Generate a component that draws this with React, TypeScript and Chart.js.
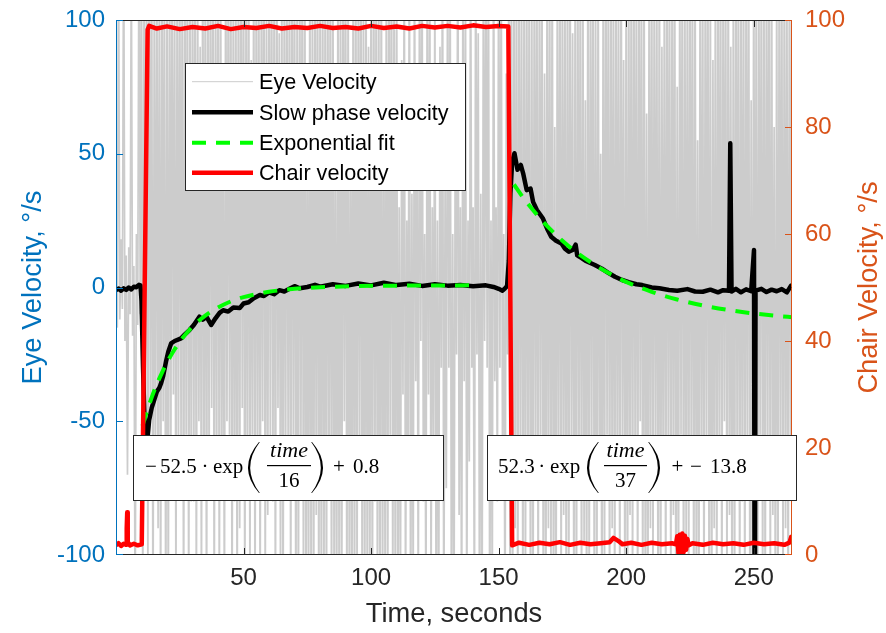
import React, { useEffect, useRef } from "react";
import { Chart, registerables } from "chart.js";

Chart.register(...registerables);

const SANS = '"Liberation Sans", Arial, Helvetica, sans-serif';
const SERIF = '"Liberation Serif", "Times New Roman", serif';

const xTickValues = [50, 100, 150, 200, 250];
const leftTickValues = [-100, -50, 0, 50, 100];
const rightTickValues = [0, 20, 40, 60, 80, 100];

const xTitle = "Time, seconds";
const leftTitle = "Eye Velocity, °/s";
const rightTitle = "Chair Velocity, °/s";
const legendLabels = ["Eye Velocity", "Slow phase velocity", "Exponential fit", "Chair velocity"];

// Raw eye velocity, sampled every 0.5 s (values beyond ±100 are clipped by the axes)
const eyeSampleStep = 0.5;
const eyeVelPre = [10, -15, 130, -12, 18, -8, 140, -20, 12, -70, 15, -10, 125, -18, 8, -130, 20, -14, 135, -10];
const eyeVelRot1 = [
  140, -130, 120, -60, 135, -110, 150, -45, 130, -145, 115, -70, 140, -90, 125, -140, 145, -50, 130, -150,
  120, -135, 150, -70, 135, -40, 110, -125, 145, -65, 125, -60, 140, -145, 130, -55, 150, -135, 115, -80,
  135, -80, 145, -130, 120, -50, 90, -125, 150, -75, 130, -145, 140, -75, 125, -45, 145, -140, 120, -60,
  150, -130, 130, -65, 70, -135, 145, -50, 125, -55, 140, -145, 135, -80, 115, -140, 150, -90, 130, -45,
  140, -135, 125, -70, 150, -120, 85, -55, 135, -140, 145, -65, 120, -135, 130, -50, 150, -125, 110, -85,
  135, -60, 140, -80, 125, -140, 150, -45, 95, -120, 130, -145, 145, -70, 120, -70, 140, -135, 150, -55,
  130, -140, 115, -135, 145, -60, 135, -130, 150, -140, 80, -125, 140, -145, 125, -130, 135, -85, 150, -140,
  120, -135, 145, -130, 130, -140, 140, -75, 125, -135, 150, -120, 60, -140, 135, -145, 130, -130, 145, -50,
  140, -135, 125, -140, 75, -130, 150, -145, 135, -120, 130, -65, 145, -135, 120, -140, 140, -130, 90, -125,
  135, -145, 150, -80, 130, -135, 125, -140, 145, -130, 70, -120, 140, -145, 135, -55, 150, -130, 120, -140,
  145, -135, 30, -125, 85, -40, 140, -130, 25, -70, 150, -145, 35, -120, 140, -35, 60, -130, 145, -20,
  125, -80, 20, -135, 135, -40, 130, -125, 30, -60, 120, -140, 25, -135, 90, -30, 150, -145, 40, -75,
  140, -30, 125, -140, 20, -135, 70, -25, 150, -85, 30, -140, 135, -35, 120, -130, 25, -65, 140, -30,
  30, -140, 150, -25, 95, -135, 35, -145, 125, -20, 135, -30, 145, -140, 25, -125, 150, -35, 30, -80,
  140, -30, 125, -60, 20, -140, 80, -25, 135, -145,
];
const eyeVelRot2 = [
  140, -130, 125, -90, 150, -140, 135, -60, 120, -135, 145, -125, 130, -80, 140, -145, 115, -130, 150, -70,
  130, -140, 145, -55, 125, -130, 80, -145, 140, -90, 135, -120, 150, -135, 60, -140, 125, -75, 145, -130,
  135, -85, 120, -140, 150, -125, 140, -60, 95, -135, 130, -145, 145, -70, 125, -130, 140, -95, 70, -140,
  150, -125, 130, -65, 145, -140, 120, -130, 135, -80, 50, -145, 140, -120, 150, -55, 125, -135, 145, -90,
  130, -140, 140, -75, 120, -135, 150, -60, 85, -130, 135, -145, 125, -85, 145, -125, 140, -70, 130, -140,
  145, -50, 125, -135, 150, -130, 65, -140, 135, -90, 140, -120, 130, -65, 120, -145, 150, -135, 90, -75,
  135, -140, 145, -60, 125, -130, 140, -85, 150, -145, 75, -125, 130, -55, 145, -140, 120, -95, 135, -130,
  150, -70, 130, -140, 140, -125, 55, -135, 145, -80, 125, -140, 135, -60, 150, -130, 120, -145, 85, -90,
  140, -135, 125, -65, 150, -140, 135, -50, 130, -125, 145, -85, 90, -140, 120, -130, 150, -75, 140, -135,
  125, -80, 145, -140, 130, -60, 150, -135, 70, -125, 140, -90, 135, -145, 120, -55, 145, -130, 130, -140,
  150, -65, 135, -125, 140, -85, 60, -140, 125, -130, 145, -70, 130, -135, 150, -90, 120, -140, 140, -60,
  135, -130,
];

// Slow phase velocity [time s, °/s]
const slowPhase: [number, number][] = [
  [0, -1], [1, -0.4], [2, -1.2], [3, -0.3], [4, -0.9], [5, 0], [6, -0.7], [7, 0.3], [8, 0.1], [9, 1], [9.6, 0.8],
  [10, -5], [10.6, -30], [11.2, -50], [11.8, -58], [12.4, -56], [13, -49.5], [14, -45], [15, -42], [16, -39],
  [17, -37.5], [17.6, -36], [18.5, -33], [19.6, -27.7], [20.5, -24], [21.6, -20.9], [23, -20], [25.5, -19],
  [27, -17.5], [28.8, -15.9], [30.5, -14], [32.7, -10.9], [34, -12], [35.5, -11], [37.3, -14], [39, -11.5],
  [40.6, -9.5], [42, -8.5], [44, -9], [46, -7.5], [48.5, -7.7], [50, -6], [52, -5.5], [54, -4], [56.4, -2.8],
  [58, -3.2], [60, -1.8], [62, -2.5], [64, -1], [66, -1.5], [68, -0.5], [70, 0.5], [72, -0.3], [75, 0.2],
  [78, 1], [80, 0.3], [85, 1.2], [90, 0.6], [95, 1.5], [100, 0.8], [105, 1.8], [110, 0.9], [115, 1.4],
  [120, 0.6], [125, 1.2], [130, 0.7], [135, 0.9], [140, 0.5], [145, 0.8], [148, 0.2], [150, -0.5],
  [151.5, -1.2], [152.5, -0.3], [153.3, 0.5], [154, 10], [154.6, 35], [155.3, 47], [156.2, 50.2],
  [157.4, 44], [158.7, 45.8], [159.6, 42.7], [161, 36.4], [162.5, 37], [163.5, 32], [165, 29], [167.3, 25.9],
  [169, 22], [170.6, 19], [172.5, 17.5], [174.6, 16.5], [176, 14.5], [177.5, 13.4], [179, 14], [180.2, 16],
  [180.8, 12], [181.7, 11.5], [184, 10], [187.7, 8.4], [190.5, 7], [193, 5.5], [195.6, 4], [198.4, 2.8],
  [201, 2], [204, 1.2], [206.3, 0.9], [210, 0], [213, -0.3], [216.8, -0.9], [220, -1.2], [224, -0.6],
  [227, -1.5], [230, -1.6], [233, -0.8], [236, -1.8], [238, -1], [240.3, -1.2], [240.8, 53.9], [241.3, -1.5],
  [243, -0.5], [245, -1.8], [247, -0.7], [249, -1.4], [250.1, 14], [250.4, -150], [250.7, -1.2], [253, -0.5],
  [255, -1.7], [257, -0.8], [259, -1.4], [261, -0.6], [263, -1.8], [264.5, 0.5], [265, 1],
];

// Exponential fits [time s, °/s]
const fitFirst: [number, number][] = [
  [10.4, -51.7], [12, -46.7], [14, -41.1], [16, -36.2], [18, -31.9], [20, -28], [23, -23.1], [26, -19],
  [30, -14.6], [35, -10.5], [40, -7.5], [45, -5.2], [50, -3.6], [60, -1.6], [70, -0.5], [80, 0.1],
  [95, 0.55], [110, 0.7], [125, 0.78], [140, 0.8],
];
const fitSecond: [number, number][] = [
  [156, 38.5], [160, 33.1], [165, 27.2], [170, 22], [175, 17.5], [180, 13.5], [190, 7.1], [200, 2.1],
  [210, -1.6], [220, -4.5], [230, -6.7], [240, -8.4], [250, -9.7], [260, -10.7], [265, -11.1],
];

// Chair velocity [time s, °/s]
const chairVelocity: [number, number][] = [
  [0, 1.8], [1, 2.2], [2, 1.7], [3, 2.1], [4, 1.9], [4.2, 5], [4.4, 8], [4.6, 2.4], [5.5, 1.8], [7, 2.1],
  [8.5, 1.8], [10.1, 2], [12.4, 98.2], [13, 98.9], [16, 98.4], [20, 98.8], [25, 98.3], [30, 98.7],
  [35, 98.4], [40, 98.9], [45, 98.3], [50, 98.7], [55, 98.5], [60, 98.9], [65, 98.4], [70, 98.7],
  [75, 98.5], [80, 98.9], [85, 98.5], [90, 98.7], [95, 98.4], [100, 98.9], [105, 98.5], [110, 98.8],
  [115, 98.4], [120, 98.9], [125, 98.6], [130, 98.9], [135, 98.6], [140, 99], [145, 98.7], [150, 98.9],
  [153.8, 98.8], [155.3, 1.8], [158, 2.3], [162, 1.9], [166, 2.3], [170, 2], [174, 2.4], [178, 1.9],
  [182, 2.3], [186, 2], [190, 2.2], [193.5, 2.4], [195, 3.2], [197, 2.6], [198.5, 2], [202, 2.3],
  [206, 1.9], [210, 2.3], [214, 2], [218, 2.2], [219.5, 2], [220, 3.5], [220.5, 0.3], [221, 3.8],
  [221.5, 0], [222, 4], [222.5, 0.5], [223, 3.6], [223.5, 1], [224, 3], [224.5, 1.8], [226, 2.2],
  [230, 1.9], [234, 2.3], [238, 2], [242, 2.2], [246, 1.9], [250, 2.3], [254, 2], [258, 2.2], [262, 1.9],
  [264, 2.3], [264.7, 3.4], [265, 3.6],
];

const toXY = (pts: [number, number][]) => pts.map(([x, y]) => ({ x, y }));

// Plot frame (pixels)
const FRAME = { left: 116, top: 20, right: 792, bottom: 555, width: 886, height: 633 };

function seg(ctx: CanvasRenderingContext2D, x1: number, y1: number, x2: number, y2: number) {
  ctx.beginPath();
  ctx.moveTo(x1, y1);
  ctx.lineTo(x2, y2);
  ctx.stroke();
}

function paren(ctx: CanvasRenderingContext2D, endX: number, bulgeX: number, top: number, bottom: number) {
  const mid = (top + bottom) / 2;
  const dir = Math.sign(endX - bulgeX);
  const cOut = 2 * bulgeX - endX;
  const cIn = 2 * (bulgeX + dir * 1.8) - endX;
  ctx.beginPath();
  ctx.moveTo(endX, top);
  ctx.quadraticCurveTo(cOut, mid, endX, bottom);
  ctx.lineTo(endX + dir * 0.8, bottom);
  ctx.quadraticCurveTo(cIn, mid, endX + dir * 0.8, top);
  ctx.closePath();
  ctx.fill();
}

function equationBox(
  ctx: CanvasRenderingContext2D,
  box: [number, number, number, number],
  pre: [string, number][],
  dotX: number,
  expX: number,
  lp: [number, number],
  rp: [number, number],
  frac: [number, number],
  denom: string,
  post: [string, number, boolean][]
) {
  ctx.save();
  ctx.fillStyle = "#ffffff";
  ctx.fillRect(box[0], box[1], box[2], box[3]);
  ctx.strokeStyle = "#262626";
  ctx.lineWidth = 1;
  ctx.strokeRect(box[0] + 0.5, box[1] + 0.5, box[2] - 1, box[3] - 1);
  ctx.fillStyle = "#000000";
  ctx.textBaseline = "alphabetic";
  ctx.font = `21px ${SERIF}`;
  ctx.textAlign = "left";
  for (const [t, x] of pre) ctx.fillText(t, x, 473);
  ctx.textAlign = "center";
  ctx.fillText("\u00B7", dotX, 473);
  ctx.textAlign = "left";
  ctx.fillText("exp", expX, 473);
  paren(ctx, lp[0], lp[1], 442, 493);
  paren(ctx, rp[0], rp[1], 442, 493);
  const cx = (frac[0] + frac[1]) / 2;
  ctx.textAlign = "center";
  ctx.font = `italic 22px ${SERIF}`;
  ctx.fillText("time", cx, 457);
  ctx.fillRect(frac[0], 465, frac[1] - frac[0], 1.2);
  ctx.font = `21px ${SERIF}`;
  ctx.fillText(denom, cx, 487);
  for (const [t, x, centered] of post) {
    ctx.textAlign = centered ? "center" : "left";
    ctx.fillText(t, x, 473);
  }
  ctx.restore();
}

const overlayPlugin = {
  id: "overlay",
  afterLayout(chart: any) {
    const f = FRAME;
    chart.chartArea = { left: f.left, top: f.top, right: f.right, bottom: f.bottom, width: f.right - f.left, height: f.bottom - f.top };
    const place = (s: any, l: number, t: number, r: number, b: number) => {
      s.left = l; s.top = t; s.right = r; s.bottom = b; s.width = r - l; s.height = b - t;
      s.configure();
      s._labelItems = null;
      s._gridLineItems = null;
    };
    place(chart.scales.x, f.left, f.bottom, f.right, f.height);
    place(chart.scales.y, 0, f.top, f.left, f.bottom);
    place(chart.scales.y2, f.right, f.top, f.width, f.bottom);
  },
  afterDatasetsDraw(chart: any) {
    const { ctx, chartArea: a, scales } = chart;
    ctx.save();
    ctx.lineWidth = 1;
    ctx.strokeStyle = "#262626";
    seg(ctx, a.left, a.top + 0.5, a.right, a.top + 0.5);
    seg(ctx, a.left, a.bottom - 0.5, a.right, a.bottom - 0.5);
    for (const v of xTickValues) {
      const px = Math.round(scales.x.getPixelForValue(v)) + 0.5;
      seg(ctx, px, a.bottom, px, a.bottom - 7);
      seg(ctx, px, a.top, px, a.top + 7);
    }
    ctx.strokeStyle = "#0072BD";
    seg(ctx, a.left + 0.5, a.top, a.left + 0.5, a.bottom);
    for (const v of leftTickValues) {
      const py = Math.min(a.bottom - 0.5, Math.round(scales.y.getPixelForValue(v)) + 0.5);
      seg(ctx, a.left, py, a.left + 7, py);
    }
    ctx.strokeStyle = "#D95319";
    seg(ctx, a.right - 0.5, a.top, a.right - 0.5, a.bottom);
    for (const v of rightTickValues) {
      const py = Math.min(a.bottom - 0.5, Math.round(scales.y2.getPixelForValue(v)) + 0.5);
      seg(ctx, a.right, py, a.right - 7, py);
    }
    ctx.restore();
  },
  afterDraw(chart: any) {
    const { ctx, chartArea: a } = chart;
    ctx.save();
    // Legend
    const lx = 185, ly = 63, lw = 281, lh = 128;
    ctx.fillStyle = "#ffffff";
    ctx.fillRect(lx, ly, lw, lh);
    ctx.strokeStyle = "#262626";
    ctx.lineWidth = 1;
    ctx.strokeRect(lx + 0.5, ly + 0.5, lw - 1, lh - 1);
    const rows = [81.7, 112.3, 142.7, 172.7];
    const styles = [
      { c: "#cccccc", w: 1, d: [] as number[] },
      { c: "#000000", w: 4.5, d: [] as number[] },
      { c: "#00ff00", w: 4, d: [14, 10] },
      { c: "#ff0000", w: 4.5, d: [] as number[] },
    ];
    ctx.font = `21.6px ${SANS}`;
    ctx.textAlign = "left";
    ctx.textBaseline = "alphabetic";
    rows.forEach((ry, i) => {
      const s = styles[i];
      ctx.strokeStyle = s.c;
      ctx.lineWidth = s.w;
      ctx.setLineDash(s.d);
      seg(ctx, 192, ry, 253, ry);
      ctx.setLineDash([]);
      ctx.fillStyle = "#000000";
      ctx.fillText(legendLabels[i], 259, ry + 7.7);
    });
    ctx.restore();

    // Equation text boxes
    equationBox(
      ctx,
      [133, 435, 311, 66],
      [["\u2212", 145], ["52.5", 160]],
      205,
      213,
      [259, 248],
      [312, 323],
      [267, 311],
      "16",
      [["+", 339, true], ["0.8", 353, false]]
    );
    equationBox(
      ctx,
      [487, 435, 310, 66],
      [["52.3", 498]],
      541.7,
      550,
      [598, 587],
      [649, 660],
      [604, 647],
      "37",
      [["+", 677.5, true], ["\u2212", 690, false], ["13.8", 710, false]]
    );

    // Axis titles
    ctx.save();
    ctx.font = `27.3px ${SANS}`;
    ctx.textAlign = "center";
    ctx.textBaseline = "middle";
    ctx.fillStyle = "#262626";
    ctx.fillText(xTitle, (a.left + a.right) / 2, 614);
    ctx.save();
    ctx.translate(33, (a.top + a.bottom) / 2);
    ctx.rotate(-Math.PI / 2);
    ctx.fillStyle = "#0072BD";
    ctx.fillText(leftTitle, 0, 0);
    ctx.restore();
    ctx.save();
    ctx.translate(869, (a.top + a.bottom) / 2);
    ctx.rotate(-Math.PI / 2);
    ctx.fillStyle = "#D95319";
    ctx.fillText(rightTitle, 0, 0);
    ctx.restore();
    ctx.restore();
  },
};

export default function App() {
  const ref = useRef<HTMLCanvasElement>(null);
  useEffect(() => {
    const eyeVel = [...eyeVelPre, ...eyeVelRot1, ...eyeVelRot2];
    const eyeData = eyeVel.map((v, i) => ({ x: i * eyeSampleStep, y: v }));
    const common = { pointRadius: 0, pointHoverRadius: 0, tension: 0, clip: 0, borderJoinStyle: "round" as const };
    const chart = new Chart(ref.current!, {
      type: "line",
      data: {
        datasets: [
          { ...common, label: legendLabels[0], data: eyeData, borderColor: "#cccccc", borderWidth: 1.7, borderJoinStyle: "miter", yAxisID: "y", order: 4 },
          { ...common, label: legendLabels[1], data: toXY(slowPhase), borderColor: "#000000", borderWidth: 4.5, yAxisID: "y", order: 3 },
          { ...common, label: legendLabels[2], data: toXY(fitFirst), borderColor: "#00ff00", borderWidth: 4, borderDash: [14, 10], cubicInterpolationMode: "monotone", yAxisID: "y", order: 2 },
          { ...common, label: legendLabels[2], data: toXY(fitSecond), borderColor: "#00ff00", borderWidth: 4, borderDash: [14, 10], cubicInterpolationMode: "monotone", yAxisID: "y", order: 2 },
          { ...common, label: legendLabels[3], data: toXY(chairVelocity), borderColor: "#ff0000", borderWidth: 4.5, yAxisID: "y2", order: 1 },
        ],
      },
      options: {
        responsive: false,
        maintainAspectRatio: false,
        devicePixelRatio: 1,
        animation: false,
        events: [],
        layout: { padding: 0 },
        plugins: { legend: { display: false }, tooltip: { enabled: false }, title: { display: false } },
        scales: {
          x: {
            type: "linear",
            position: "bottom",
            min: 0,
            max: 265,
            grid: { display: false, drawTicks: false },
            border: { display: false },
            ticks: { color: "#262626", font: { family: SANS, size: 24 }, padding: 9, autoSkip: false, maxRotation: 0, callback: (v: any) => String(v) },
            afterBuildTicks: (s: any) => { s.ticks = xTickValues.map((v) => ({ value: v })); },
          },
          y: {
            type: "linear",
            position: "left",
            min: -100,
            max: 100,
            grid: { display: false, drawTicks: false },
            border: { display: false },
            ticks: { color: "#0072BD", font: { family: SANS, size: 24 }, padding: 11, autoSkip: false, callback: (v: any) => String(v) },
            afterBuildTicks: (s: any) => { s.ticks = leftTickValues.map((v) => ({ value: v })); },
          },
          y2: {
            type: "linear",
            position: "right",
            min: 0,
            max: 100,
            grid: { display: false, drawTicks: false },
            border: { display: false },
            ticks: { color: "#D95319", font: { family: SANS, size: 24 }, padding: 13, autoSkip: false, callback: (v: any) => String(v) },
            afterBuildTicks: (s: any) => { s.ticks = rightTickValues.map((v) => ({ value: v })); },
          },
        },
      },
      plugins: [overlayPlugin],
    } as any);
    return () => chart.destroy();
  }, []);
  return (
    <div style={{ position: "fixed", left: 0, top: 0, width: 886, height: 633, background: "#ffffff" }}>
      <canvas ref={ref} width={886} height={633} style={{ display: "block", width: 886, height: 633 }} />
    </div>
  );
}
